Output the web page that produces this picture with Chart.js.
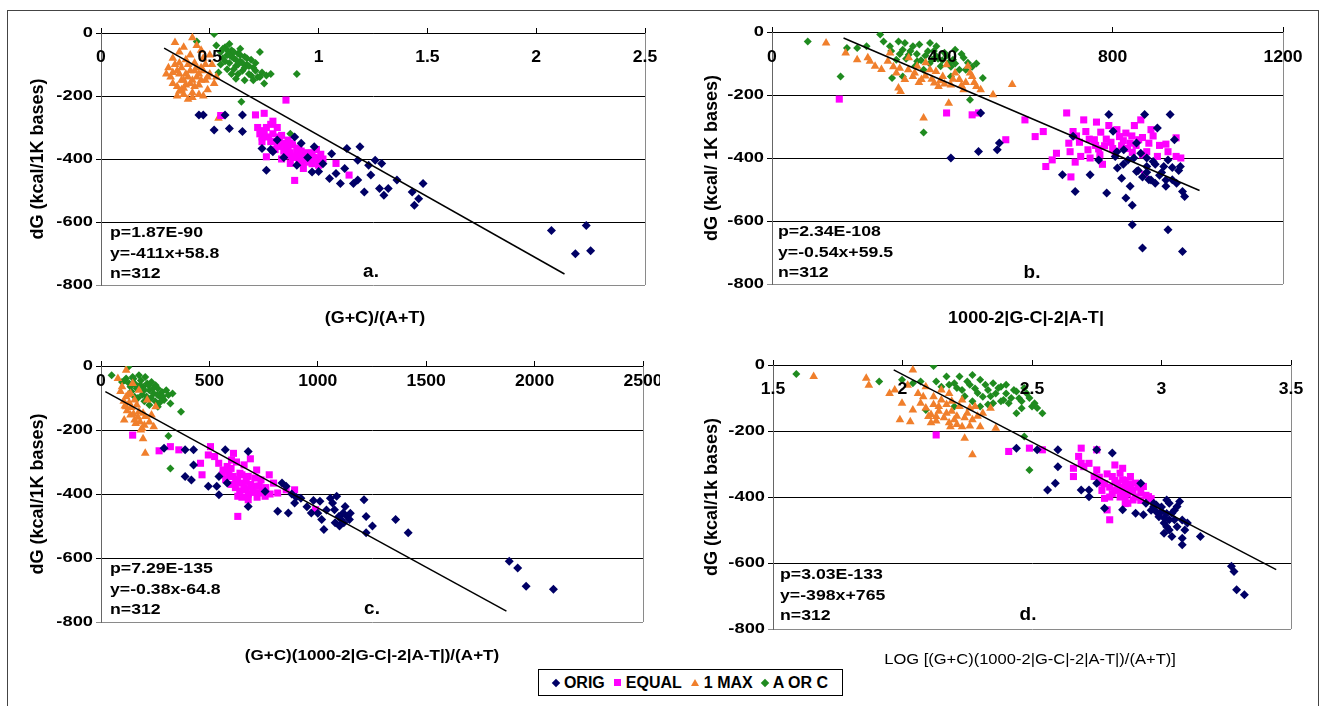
<!DOCTYPE html>
<html>
<head>
<meta charset="utf-8">
<script src="https://cdn.jsdelivr.net/npm/chart.js@4.4.0/dist/chart.umd.min.js"></script>
<style>
  body { margin: 0; background: #fff; width: 1326px; height: 706px; overflow: hidden; position: relative;
         font-family: "Liberation Sans", Arial, sans-serif; }
  canvas { position: absolute; }
  #frame { position: absolute; left: 7px; top: 10px; width: 1312px; height: 700px; border: 1px solid #444; box-sizing: border-box; }
  #legend { position: absolute; left: 538px; top: 669px; width: 305px; height: 27px; border: 1px solid #000;
            box-sizing: border-box; background: #fff; display: flex; align-items: center; justify-content: center;
            font: bold 16px "Liberation Sans", Arial, sans-serif; color: #000; gap: 9px; }
  #legend .item { display: flex; align-items: center; gap: 5px; }
  .dia { width: 6px; height: 6px; transform: rotate(45deg); }
  .sq { width: 7px; height: 7px; background: #ff00ff; }
  .tri { width: 0; height: 0; border-left: 4px solid transparent; border-right: 4px solid transparent; border-bottom: 7px solid #f07f2c; }
</style>
</head>
<body>
<div id="frame"></div>
<canvas id="chartA"></canvas>
<canvas id="chartB"></canvas>
<canvas id="chartC"></canvas>
<canvas id="chartD"></canvas>
<div id="legend">
  <div class="item"><span class="dia" style="background:#000066"></span>ORIG</div>
  <div class="item"><span class="sq"></span>EQUAL</div>
  <div class="item"><span class="tri"></span>1 MAX</div>
  <div class="item"><span class="dia" style="background:#1f8b1f"></span>A OR C</div>
</div>
<script>
// series names (legend order)
const seriesNames = ['ORIG', 'EQUAL', '1 MAX', 'A OR C'];
const yTicks = [0, -200, -400, -600, -800];

// ---- panel a: (G+C)/(A+T) ----
const xTicksA = [0, 0.5, 1, 1.5, 2, 2.5];
const aOrig = [[0.45,-260],[0.47,-260],[0.52,-308],[0.57,-260],[0.59,-303],[0.65,-313],[0.65,-260],[0.74,-367],[0.76,-436],
  [0.78,-370],[0.79,-377],[0.81,-340],[0.84,-395],[0.89,-330],[0.90,-420],[0.92,-350],[0.95,-395],[0.97,-441],[0.98,-361],
  [1.00,-440],[1.02,-415],[1.05,-462],[1.06,-383],[1.08,-446],[1.10,-478],[1.12,-430],[1.13,-367],[1.16,-478],[1.18,-404],
  [1.18,-467],[1.19,-361],[1.21,-505],[1.23,-420],[1.24,-451],[1.26,-404],[1.28,-494],[1.29,-414],[1.30,-515],[1.32,-494],
  [1.36,-467],[1.43,-505],[1.44,-547],[1.46,-526],[1.48,-478],[2.07,-627],[2.18,-701],[2.23,-611],[2.25,-691]];
const aEqual = [[0.55,-262],[0.71,-260],[0.75,-255],[0.85,-213],[0.72,-300],[0.73,-320],[0.75,-310],[0.77,-330],[0.78,-290],
  [0.80,-345],[0.81,-300],[0.82,-360],[0.83,-325],[0.84,-350],[0.85,-370],[0.86,-340],[0.87,-380],[0.88,-355],[0.89,-390],
  [0.90,-365],[0.91,-400],[0.92,-375],[0.93,-395],[0.94,-410],[0.95,-385],[0.96,-405],[0.97,-380],[0.98,-395],[1.00,-420],
  [0.76,-393],[0.87,-414],[0.89,-468],[1.08,-414],[1.14,-451],[0.79,-280],[0.83,-400],[0.93,-430],[0.99,-370],[1.02,-400],
  [0.74,-345],[0.80,-370],[0.74,-330],[0.76,-300],[0.78,-345],[0.79,-320],[0.81,-355],[0.82,-330],[0.84,-375],[0.86,-360],
  [0.87,-350],[0.88,-395],[0.90,-385],[0.91,-370],[0.92,-410],[0.94,-380],[0.95,-400],[0.96,-390],[0.97,-415],[0.99,-400],
  [1.01,-385],[0.85,-390]];
const aMax = [[0.34,-30],[0.38,-45],[0.42,-15],[0.44,-40],[0.31,-110],[0.32,-140],[0.33,-160],[0.35,-120],[0.36,-95],
  [0.37,-150],[0.38,-175],[0.39,-130],[0.40,-100],[0.41,-160],[0.42,-190],[0.43,-120],[0.44,-140],[0.45,-165],[0.46,-110],
  [0.47,-80],[0.48,-150],[0.49,-180],[0.50,-130],[0.51,-100],[0.52,-160],[0.35,-200],[0.40,-210],[0.45,-195],[0.33,-80],
  [0.36,-60],[0.41,-70],[0.46,-55],[0.50,-70],[0.53,-140],[0.54,-271],[0.39,-85],[0.43,-95],[0.30,-130],[0.37,-180],[0.47,-200],
  [0.34,-100],[0.36,-130],[0.37,-110],[0.38,-150],[0.39,-165],[0.40,-140],[0.41,-120],[0.42,-150],[0.43,-170],[0.44,-110],
  [0.45,-130],[0.46,-150],[0.47,-120],[0.48,-100],[0.35,-170],[0.38,-195],[0.42,-205],[0.49,-140],[0.36,-185],[0.33,-125]];
const aAorC = [[0.44,-27],[0.52,-3],[0.53,-40],[0.55,-60],[0.56,-80],[0.57,-45],[0.58,-70],[0.59,-95],[0.60,-55],[0.61,-80],
  [0.62,-105],[0.63,-65],[0.64,-90],[0.65,-120],[0.66,-75],[0.67,-100],[0.68,-130],[0.70,-110],[0.72,-140],[0.74,-125],
  [0.76,-135],[0.78,-130],[0.69,-85],[0.71,-95],[0.73,-60],[0.62,-145],[0.66,-150],[0.58,-115],[0.55,-100],[0.54,-125],
  [0.60,-130],[0.70,-150],[0.90,-130],[0.645,-218],[0.87,-320],[0.64,-50],[0.59,-35],[0.75,-160],[0.56,-50],[0.57,-90],
  [0.58,-55],[0.60,-75],[0.61,-60],[0.62,-85],[0.63,-100],[0.64,-70],[0.65,-95],[0.66,-110],[0.67,-80],[0.68,-105],
  [0.59,-70],[0.61,-115],[0.63,-130],[0.71,-120],[0.73,-140],[0.69,-135]];
const aTrend = [[0.29,-48],[2.13,-765]];

// ---- panel b: 1000-2|G-C|-2|A-T| ----
const xTicksB = [0, 400, 800, 1200];
const bOrig = [[420,-400],[485,-379],[490,-257],[529,-374],[534,-352],[682,-453],[707,-331],[712,-506],[747,-453],[767,-406],
  [786,-511],[791,-262],[801,-315],[806,-395],[811,-432],[821,-464],[826,-374],[831,-527],[836,-406],[841,-490],[846,-550],
  [846,-612],[856,-443],[856,-352],[866,-385],[870,-686],[875,-262],[880,-427],[885,-469],[895,-411],[905,-305],[915,-446],
  [920,-427],[925,-490],[930,-406],[935,-262],[940,-469],[930,-628],[945,-342],[959,-427],[964,-697],[964,-506],[969,-522],
  [810,-380],[825,-420],[850,-400],[860,-440],[870,-460],[880,-445],[890,-470],[900,-420],[910,-455],[925,-470],[940,-430],
  [950,-480],[955,-440],[900,-480],[880,-400]];
const bEqual = [[158,-213],[410,-257],[470,-263],[485,-257],[549,-342],[594,-279],[618,-332],[637,-316],[643,-427],[658,-406],
  [668,-385],[692,-257],[697,-353],[702,-460],[707,-316],[712,-413],[722,-350],[732,-279],[737,-316],[742,-374],[747,-400],
  [757,-342],[762,-286],[767,-371],[772,-318],[776,-420],[781,-361],[791,-297],[796,-350],[806,-382],[816,-332],[821,-361],
  [831,-321],[841,-353],[846,-382],[851,-297],[861,-342],[866,-279],[875,-452],[885,-353],[890,-310],[905,-395],[925,-356],
  [949,-336],[949,-395],[700,-380],[715,-330],[725,-395],[745,-340],[760,-360],[770,-390],[785,-340],[800,-370],[810,-310],
  [825,-345],[835,-370],[845,-330],[855,-360],[870,-335],[880,-380],[895,-330],[910,-360],[930,-380],[960,-400],[870,-390]];
const bMax = [[127,-35],[173,-67],[200,-88],[225,-82],[230,-93],[242,-109],[257,-119],[272,-93],[277,-67],[292,-130],[297,-178],
  [302,-189],[312,-151],[321,-82],[331,-141],[341,-109],[351,-151],[356,-273],[361,-98],[371,-120],[381,-162],[391,-173],
  [401,-141],[410,-104],[415,-226],[420,-168],[430,-130],[440,-151],[450,-183],[460,-109],[470,-141],[480,-173],[490,-183],
  [519,-199],[564,-167],[320,-120],[335,-130],[345,-160],[360,-140],[375,-150],[385,-125],[395,-155],[405,-165],[425,-150],
  [445,-170],[455,-160],[465,-130],[475,-160],[300,-115],[285,-110]];
const bAorC = [[84,-30],[161,-141],[176,-51],[200,-51],[222,-45],[254,-8],[262,-30],[277,-45],[282,-146],[292,-88],[297,-30],
  [307,-56],[307,-141],[312,-35],[321,-72],[331,-45],[336,-109],[341,-93],[346,-40],[356,-120],[356,-319],[366,-61],[371,-35],
  [376,-88],[386,-77],[386,-45],[396,-109],[405,-66],[415,-98],[420,-141],[425,-88],[430,-56],[440,-120],[450,-82],[460,-98],
  [465,-215],[495,-146],[280,-60],[300,-70],[315,-85],[325,-60],[340,-70],[350,-90],[360,-75],[370,-100],[380,-60],[390,-85],
  [400,-90],[410,-75],[420,-110],[430,-100],[445,-70],[455,-120],[470,-110],[480,-100]];
const bTrend = [[168,-19],[1004,-503]];

// ---- panel c: (G+C)(1000-2|G-C|-2|A-T|)/(A+T) ----
const xTicksC = [0, 500, 1000, 1500, 2000, 2500];
const cOrig = [[291,-257],[388,-262],[427,-262],[388,-345],[417,-356],[427,-309],[495,-376],[534,-376],[544,-402],[573,-262],
  [544,-345],[582,-366],[679,-439],[679,-267],[757,-392],[815,-454],[835,-366],[854,-376],[864,-459],[893,-428],[922,-413],
  [970,-459],[1010,-423],[1018,-480],[1028,-511],[1058,-413],[1068,-428],[1077,-449],[1087,-407],[1097,-470],[1107,-480],
  [1117,-459],[1126,-439],[1136,-470],[1146,-480],[1213,-418],[1223,-470],[1223,-521],[1252,-500],[1359,-480],[1417,-521],
  [1883,-610],[1922,-631],[1961,-688],[2087,-698],[880,-400],[950,-440],[1000,-460],[1040,-450],[1080,-490],[1100,-500],
  [1120,-490],[1150,-460],[980,-420],[900,-410]];
const cEqual = [[146,-216],[268,-265],[320,-252],[359,-262],[459,-304],[466,-340],[495,-278],[505,-252],[524,-283],[543,-304],
  [563,-325],[582,-314],[592,-345],[602,-294],[611,-273],[621,-361],[631,-407],[631,-470],[641,-335],[650,-366],[660,-309],
  [670,-387],[679,-345],[679,-418],[689,-290],[699,-376],[718,-325],[718,-376],[728,-397],[738,-356],[757,-407],[776,-340],
  [796,-366],[815,-397],[854,-387],[893,-387],[990,-449],[560,-340],[575,-355],[590,-330],[600,-370],[610,-345],[620,-380],
  [630,-355],[640,-390],[650,-340],[660,-380],[670,-360],[680,-400],[690,-370],[700,-395],[710,-350],[720,-410],[730,-375],
  [745,-390],[760,-380],[780,-400],[600,-320],[625,-300],[650,-410]];
const cMax = [[116,-13],[97,-65],[136,-86],[116,-127],[107,-169],[155,-106],[175,-143],[184,-200],[204,-158],[194,-227],
  [204,-273],[223,-175],[243,-190],[252,-127],[155,-169],[136,-153],[175,-76],[213,-106],[78,-39],[165,-122],[194,-148],
  [146,-55],[233,-153],[116,-96],[90,-80],[105,-110],[120,-140],[130,-115],[140,-130],[150,-150],[160,-180],[170,-160],
  [180,-175],[190,-195],[200,-185],[125,-90],[110,-125]];
const cAorC = [[49,-29],[97,-50],[126,-3],[116,-39],[146,-34],[155,-55],[175,-29],[184,-45],[194,-65],[204,-34],[213,-55],
  [223,-76],[233,-50],[243,-86],[252,-60],[262,-70],[272,-96],[281,-81],[291,-106],[301,-76],[311,-91],[320,-117],[330,-86],
  [369,-143],[311,-219],[320,-320],[262,-127],[223,-122],[155,-96],[136,-65],[110,-45],[130,-55],[150,-40],[165,-70],
  [180,-60],[190,-90],[200,-75],[210,-95],[220,-60],[230,-100],[240,-70],[250,-110],[260,-90],[270,-115],[285,-95],
  [170,-100],[200,-110],[140,-80]];
const cTrend = [[20,-80],[1870,-766]];

// ---- panel d: LOG [...] ----
const xTicksD = [1.5, 2, 2.5, 3, 3.5];
const dOrig = [[2.44,-252],[2.52,-257],[2.56,-379],[2.59,-358],[2.60,-257],[2.60,-308],[2.69,-379],[2.72,-399],[2.72,-379],
  [2.75,-257],[2.75,-358],[2.78,-434],[2.81,-267],[2.85,-439],[2.90,-449],[2.92,-358],[2.93,-454],[2.94,-419],[2.97,-429],
  [2.97,-419],[2.98,-424],[3.00,-444],[3.01,-510],[3.01,-479],[3.01,-464],[3.02,-409],[3.03,-419],[3.03,-500],[3.03,-469],
  [3.04,-449],[3.05,-469],[3.06,-429],[3.07,-414],[3.08,-525],[3.08,-545],[3.09,-500],[3.10,-479],[3.15,-520],[3.27,-610],
  [3.28,-626],[3.29,-681],[3.32,-696],[2.96,-440],[2.99,-460],[3.00,-430],[3.02,-490],[3.04,-520],[3.05,-440],[3.06,-490],
  [3.02,-450],[2.98,-445],[3.08,-470]];
const dEqual = [[2.13,-212],[2.41,-262],[2.49,-252],[2.54,-257],[2.66,-313],[2.66,-338],[2.68,-277],[2.69,-252],[2.69,-298],
  [2.70,-308],[2.72,-298],[2.74,-338],[2.75,-318],[2.75,-257],[2.77,-358],[2.78,-404],[2.79,-439],[2.80,-469],[2.81,-338],
  [2.82,-303],[2.82,-379],[2.83,-358],[2.84,-328],[2.85,-388],[2.85,-348],[2.85,-313],[2.86,-399],[2.87,-368],[2.87,-419],
  [2.88,-338],[2.88,-379],[2.89,-409],[2.90,-358],[2.92,-388],[2.93,-368],[2.95,-399],[2.99,-449],[2.76,-340],[2.78,-360],
  [2.79,-330],[2.80,-370],[2.81,-390],[2.82,-350],[2.83,-380],[2.84,-400],[2.85,-370],[2.86,-350],[2.86,-420],[2.87,-390],
  [2.88,-360],[2.89,-380],[2.90,-400],[2.91,-370],[2.92,-410],[2.94,-395],[2.96,-405],[2.80,-400],[2.77,-380]];
const dMax = [[1.657,-35],[1.86,-40],[1.87,-61],[1.95,-86],[1.97,-76],[1.99,-166],[1.998,-116],[2.02,-61],[2.03,-172],[2.04,-15],
  [2.04,-136],[2.06,-86],[2.07,-116],[2.08,-96],[2.09,-66],[2.10,-156],[2.12,-96],[2.13,-156],[2.14,-126],[2.15,-106],
  [2.15,-76],[2.17,-146],[2.18,-86],[2.185,-187],[2.20,-166],[2.22,-126],[2.23,-187],[2.23,-106],[2.24,-222],[2.25,-146],
  [2.27,-166],[2.27,-272],[2.28,-126],[2.30,-187],[2.31,-146],[2.34,-131],[2.36,-192],[2.09,-130],[2.11,-150],[2.12,-120],
  [2.13,-170],[2.14,-140],[2.16,-160],[2.17,-120],[2.18,-175],[2.19,-140],[2.21,-155],[2.21,-180],[2.24,-160],[2.26,-130],
  [2.26,-185],[2.29,-155],[2.11,-175],[2.19,-110]];
const dAorC = [[1.59,-27],[1.91,-50],[1.998,-45],[2.04,-55],[2.07,-50],[2.09,-136],[2.12,-3],[2.13,-50],[2.15,-66],[2.17,-35],
  [2.20,-55],[2.20,-126],[2.22,-35],[2.23,-76],[2.25,-50],[2.27,-30],[2.28,-71],[2.30,-45],[2.30,-126],[2.31,-96],[2.33,-76],
  [2.35,-55],[2.35,-116],[2.36,-86],[2.38,-66],[2.39,-106],[2.40,-86],[2.41,-116],[2.43,-76],[2.44,-146],[2.45,-101],
  [2.46,-131],[2.47,-217],[2.48,-86],[2.49,-318],[2.50,-126],[2.51,-116],[2.54,-146],[2.18,-60],[2.21,-70],[2.24,-95],
  [2.26,-60],[2.29,-85],[2.32,-60],[2.34,-95],[2.37,-70],[2.38,-110],[2.40,-60],[2.42,-100],[2.44,-80],[2.46,-110],
  [2.47,-70],[2.49,-100],[2.52,-130],[2.33,-120],[2.27,-110]];
const dTrend = [[1.966,-15],[3.443,-620]];

const FONT = '"Liberation Sans", Arial, sans-serif';
const NAVY = '#000066', MAGENTA = '#ff00ff', ORANGE = '#f07f2c', GREEN = '#1f8b1f';

// text in the picture is a little wider than plain Arial, so it is stretched sideways
function stretchText(ctx, str, x, y, font, align, sx) {
  ctx.save();
  ctx.translate(x, y);
  ctx.scale(sx, 1);
  ctx.font = font;
  ctx.textAlign = align;
  ctx.textBaseline = 'middle';
  ctx.fillText(str, 0, 0);
  ctx.restore();
}

// x tick labels inside the plot, y tick labels, stats block and captions
const panelText = {
  id: 'panelText',
  beforeDatasetsDraw(chart) {
    const {ctx, chartArea} = chart;
    ctx.save();
    ctx.strokeStyle = '#8a8a8a';
    ctx.lineWidth = 1;
    ctx.beginPath();
    ctx.moveTo(Math.round(chartArea.right) + 0.5, chartArea.top);
    ctx.lineTo(Math.round(chartArea.right) + 0.5, chartArea.bottom);
    ctx.stroke();
    ctx.restore();
  },
  afterDraw(chart, args, opts) {
    const {ctx, chartArea} = chart;
    const xs = chart.scales.x, ys = chart.scales.y;
    const ox = opts.box[0], oy = opts.box[1];
    ctx.save();
    ctx.fillStyle = '#000';
    opts.xTicks.forEach(v => {
      stretchText(ctx, String(v), xs.getPixelForValue(v), chartArea.top + opts.tickOffset, 'bold 16px ' + FONT, 'center', 1.1);
    });
    yTicks.forEach(v => {
      stretchText(ctx, String(v), chartArea.left - 8, ys.getPixelForValue(v), 'bold 15px ' + FONT, 'right', 1.22);
    });
    opts.stats.forEach((s, i) => {
      stretchText(ctx, s, opts.statsPos[0] - ox, opts.statsPos[1] - oy + i * 20.5, 'bold 15px ' + FONT, 'left', 1.18);
    });
    stretchText(ctx, opts.tag, opts.tagPos[0] - ox, opts.tagPos[1] - oy, 'bold 18px ' + FONT, 'center', 1.05);
    stretchText(ctx, opts.xTitle, opts.xTitlePos[0] - ox, opts.xTitlePos[1] - oy, opts.xTitleFont, 'center', opts.xTitleSx);
    ctx.restore();
  }
};

function makePanel(id, box, area, xTicks, yTitle, yTitleX, series, trend, text) {
  const canvas = document.getElementById(id);
  canvas.width = box[2];
  canvas.height = box[3];
  canvas.style.left = box[0] + 'px';
  canvas.style.top = box[1] + 'px';
  const titleSize = 18;
  const padLeft = yTitleX - box[0] - titleSize * 1.2 / 2;
  const mk = (label, data, style, r, color) => ({
    label, data, pointStyle: style, pointRadius: r, pointBackgroundColor: color,
    pointBorderColor: color, pointBorderWidth: 0, showLine: false
  });
  new Chart(canvas, {
    type: 'scatter',
    data: {
      datasets: [
        { label: 'trend', data: trend, showLine: true, borderColor: '#000', borderWidth: 1.5, pointRadius: 0, fill: false },
        mk(seriesNames[0], series[0], 'rectRot', 4.5, NAVY),
        mk(seriesNames[1], series[1], 'rect', 5, MAGENTA),
        mk(seriesNames[2], series[2], 'triangle', 5, ORANGE),
        mk(seriesNames[3], series[3], 'rectRot', 4, GREEN)
      ]
    },
    options: {
      responsive: false,
      animation: false,
      events: [],
      layout: { padding: { left: padLeft, top: area[1] - box[1], right: box[0] + box[2] - area[2], bottom: box[1] + box[3] - area[3] } },
      plugins: {
        legend: { display: false },
        tooltip: { enabled: false },
        panelText: Object.assign({ box, xTicks }, text)
      },
      scales: {
        x: {
          type: 'linear', position: 'top',
          min: xTicks[0], max: xTicks[xTicks.length - 1],
          ticks: { display: false, stepSize: xTicks[1] - xTicks[0] },
          grid: { display: true, drawOnChartArea: false, drawTicks: true, tickLength: 5, color: '#000' },
          border: { display: true, color: '#000', width: 1 },
          afterFit: s => { s.height = 0; }
        },
        y: {
          type: 'linear', min: yTicks[yTicks.length - 1], max: yTicks[0],
          ticks: { display: false, stepSize: 200 },
          grid: { color: c => (c.tick && c.tick.value === -800) ? '#8a8a8a' : '#000', tickLength: 5, drawTicks: true },
          border: { display: true, color: '#666' },
          title: { display: true, text: yTitle, color: '#000', padding: 0, font: { family: FONT, size: titleSize, weight: 'bold' } },
          afterFit: s => { s.width = area[0] - box[0] - padLeft; }
        }
      }
    },
    plugins: [panelText]
  });
}

makePanel('chartA', [0, 0, 660, 345], [101, 33, 645, 285], xTicksA, 'dG (kcal/1K bases)', 38,
  [aOrig, aEqual, aMax, aAorC], aTrend,
  { tickOffset: 25, stats: ['p=1.87E-90', 'y=-411x+58.8', 'n=312'], statsPos: [110, 233], tag: 'a.', tagPos: [371, 272],
    xTitle: '(G+C)/(A+T)', xTitlePos: [375, 319], xTitleFont: 'bold 16px ' + FONT, xTitleSx: 1.12 });

makePanel('chartB', [660, 0, 666, 345], [772, 32, 1283, 284], xTicksB, 'dG (kcal/ 1K bases)', 712,
  [bOrig, bEqual, bMax, bAorC], bTrend,
  { tickOffset: 26, stats: ['p=2.34E-108', 'y=-0.54x+59.5', 'n=312'], statsPos: [778, 232], tag: 'b.', tagPos: [1032, 273],
    xTitle: '1000-2|G-C|-2|A-T|', xTitlePos: [1026, 319], xTitleFont: 'bold 16px ' + FONT, xTitleSx: 1.13 });

makePanel('chartC', [0, 345, 660, 361], [101, 366, 643, 622], xTicksC, 'dG (kcal/1K bases)', 38,
  [cOrig, cEqual, cMax, cAorC], cTrend,
  { tickOffset: 16, stats: ['p=7.29E-135', 'y=-0.38x-64.8', 'n=312'], statsPos: [110, 569], tag: 'c.', tagPos: [372, 609],
    xTitle: '(G+C)(1000-2|G-C|-2|A-T|)/(A+T)', xTitlePos: [372, 656], xTitleFont: 'bold 14px ' + FONT, xTitleSx: 1.22 });

makePanel('chartD', [660, 345, 666, 361], [773, 365, 1291, 629], xTicksD, 'dG (kcal/1k bases)', 712,
  [dOrig, dEqual, dMax, dAorC], dTrend,
  { tickOffset: 25, stats: ['p=3.03E-133', 'y=-398x+765', 'n=312'], statsPos: [780, 575], tag: 'd.', tagPos: [1028, 615],
    xTitle: 'LOG [(G+C)(1000-2|G-C|-2|A-T|)/(A+T)]', xTitlePos: [1030, 660], xTitleFont: '14px ' + FONT, xTitleSx: 1.18 });
</script>
</body>
</html>
